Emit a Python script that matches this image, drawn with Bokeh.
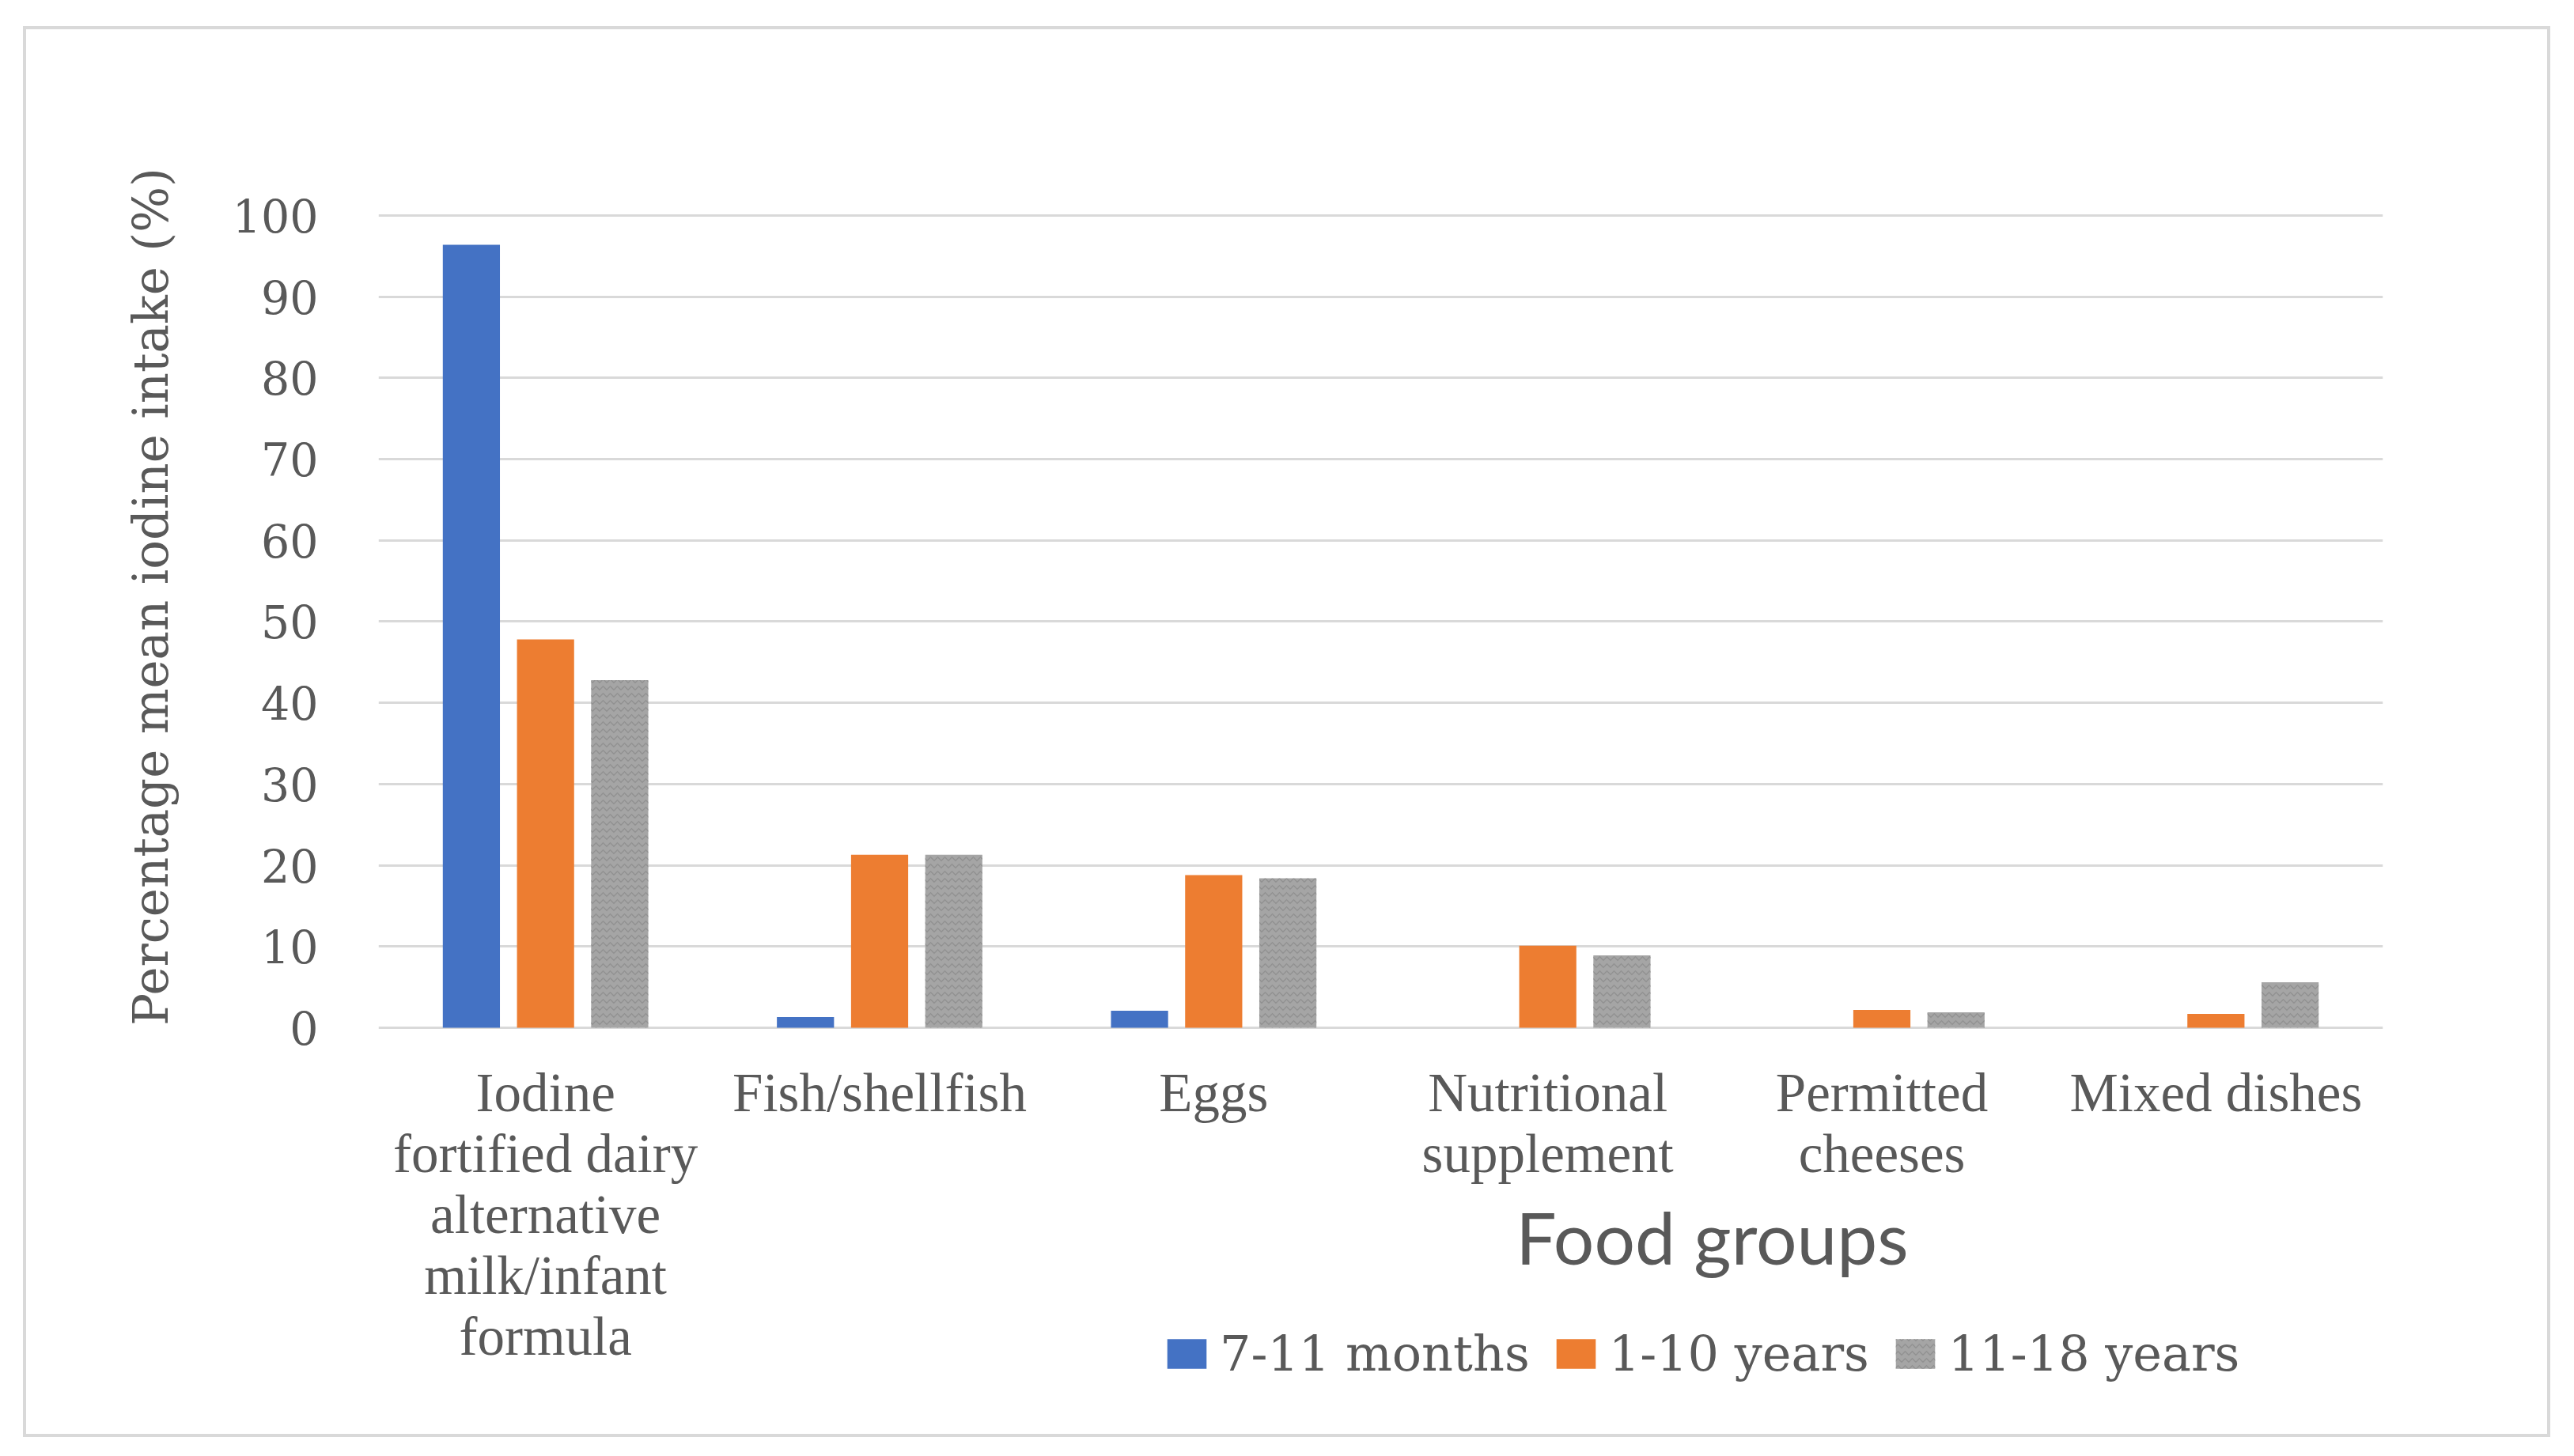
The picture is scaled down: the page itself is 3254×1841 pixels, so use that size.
from bokeh.plotting import figure
from bokeh.models import ColumnDataSource, FactorRange, Range1d, Legend, LegendItem, Label, FixedTicker
from bokeh.transform import dodge
from bokeh.embed import file_html
from bokeh.resources import INLINE

# ---- data ----
categories = [
    "Iodine fortified dairy alternative milk/infant formula",
    "Fish/shellfish",
    "Eggs",
    "Nutritional supplement",
    "Permitted cheeses",
    "Mixed dishes",
]
tick_label_lines = [
    ["Iodine", "fortified dairy", "alternative", "milk/infant", "formula"],
    ["Fish/shellfish"],
    ["Eggs"],
    ["Nutritional", "supplement"],
    ["Permitted", "cheeses"],
    ["Mixed dishes"],
]
series_names = ["7-11 months", "1-10 years", "11-18 years"]
months_7_11 = [96.4, 1.3, 2.1, 0.0, 0.0, 0.0]
years_1_10 = [47.8, 21.3, 18.8, 10.1, 2.2, 1.7]
years_11_18 = [42.8, 21.3, 18.4, 8.9, 1.9, 5.6]
y_ticks = [0, 10, 20, 30, 40, 50, 60, 70, 80, 90, 100]
x_title = "Food groups"
y_title = "Percentage mean iodine intake (%)"

source = ColumnDataSource(dict(cat=categories, a=months_7_11, b=years_1_10, c=years_11_18))

# category labels, one text per line, stacked below the zero line
lab_x, lab_text, lab_line = [], [], []
for cat, lines in zip(categories, tick_label_lines):
    for i, t in enumerate(lines):
        lab_x.append(cat)
        lab_text.append(t)
        lab_line.append(i)
LINE_STEP = 77
FIRST_BASELINE = 83
label_source = ColumnDataSource(dict(
    x=lab_x, y=[0] * len(lab_x), text=lab_text,
    yoff=[FIRST_BASELINE + LINE_STEP * i for i in lab_line],
))

TEXT = "#595959"
GRID = "#d9d9d9"
SERIF = "DejaVu Serif"

p = figure(
    x_range=FactorRange(*categories),
    y_range=Range1d(-48.69, 120.84),
    width=3195, height=1784,
    output_backend="svg", toolbar_location=None,
    min_border_left=445, min_border_right=216,
    min_border_top=21, min_border_bottom=22,
)
p.margin = (33, 0, 0, 29)
p.styles = {"border": "4px solid #d9d9d9"}
p.outline_line_color = None
p.background_fill_color = "white"
p.border_fill_color = "white"

bar_w = 0.171
off = 0.222
r1 = p.vbar(x=dodge("cat", -off, range=p.x_range), top="a", width=bar_w, source=source,
            fill_color="#4472C4", line_color=None)
r2 = p.vbar(x=dodge("cat", 0.0, range=p.x_range), top="b", width=bar_w, source=source,
            fill_color="#ED7D31", line_color=None)
r3 = p.vbar(x=dodge("cat", off, range=p.x_range), top="c", width=bar_w, source=source,
            fill_color="#A5A5A5", line_color=None,
            hatch_pattern="v", hatch_color="#8c8c8c", hatch_scale=9, hatch_weight=1.5, hatch_alpha=0.8)

p.text(x="x", y="y", text="text", y_offset="yoff", source=label_source,
       text_font=SERIF, text_font_size="69px", text_color=TEXT,
       text_align="center", text_baseline="alphabetic")

# grid
p.xgrid.grid_line_color = None
p.ygrid.grid_line_color = GRID
p.ygrid.grid_line_width = 3
p.yaxis.ticker = FixedTicker(ticks=y_ticks)

# x axis hidden (category labels drawn as text above)
p.xaxis.visible = False

# y axis
ya = p.yaxis[0]
ya.axis_line_color = None
ya.major_tick_line_color = None
ya.minor_tick_line_color = None
ya.major_tick_out = 0
ya.major_tick_in = 0
ya.major_label_standoff = 76
ya.major_label_text_font = SERIF
ya.major_label_text_font_size = "57px"
ya.major_label_text_color = TEXT
# leading no-break spaces shift the centred title down beside the 0-100 scale
ya.axis_label = "\u00a0" * 18 + y_title
ya.axis_label_text_font = SERIF
ya.axis_label_text_font_size = "61px"
ya.axis_label_text_font_style = "normal"
ya.axis_label_text_color = TEXT
ya.axis_label_standoff = 65

# x title placed beside the category labels
p.add_layout(Label(x=1686, y=236, x_units="screen", y_units="screen", text=x_title,
                   text_font="Lato", text_font_size="91px", text_color=TEXT,
                   text_align="center", text_baseline="alphabetic"))

legend = Legend(
    items=[LegendItem(label=series_names[0], renderers=[r1]),
           LegendItem(label=series_names[1], renderers=[r2]),
           LegendItem(label=series_names[2], renderers=[r3])],
    location=(991, 51), orientation="horizontal",
    glyph_width=62, glyph_height=47, label_standoff=11, spacing=27,
    padding=0, margin=0,
    label_text_font=SERIF, label_text_font_size="62px", label_text_color=TEXT,
    border_line_color=None, background_fill_alpha=0,
)
p.add_layout(legend, "center")

open("out.html", "w").write(file_html(p, INLINE))
